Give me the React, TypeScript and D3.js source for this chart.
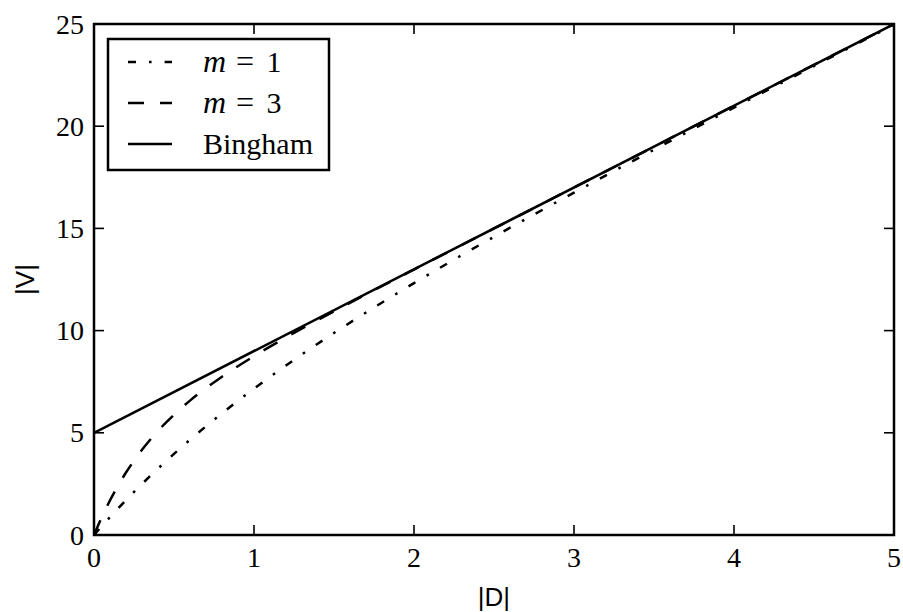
import React from "react";
import * as d3 from "d3";

const dValues = [0, 0.05, 0.1, 0.15, 0.2, 0.25, 0.3, 0.4, 0.5, 0.6, 0.8, 1.0, 1.25, 1.5, 1.75, 2, 2.5, 3, 3.5, 4, 4.5, 5];
const m1Values = [0, 0.444, 0.876, 1.297, 1.706, 2.106, 2.496, 3.248, 3.967, 4.656, 5.953, 7.161, 8.568, 9.884, 11.131, 12.323, 14.59, 16.751, 18.849, 20.908, 22.944, 24.966];
const m3Values = [0, 0.896, 1.696, 2.412, 3.056, 3.638, 4.167, 5.094, 5.884, 6.574, 7.746, 8.751, 9.882, 10.944, 11.974, 12.988, 14.997, 16.999, 19.0, 21.0, 23.0, 25.0];
const binghamD = [0, 5];
const binghamV = [5, 25];

const xTicks = [0, 1, 2, 3, 4, 5];
const yTicks = [0, 5, 10, 15, 20, 25];
const legendValues = ["1", "3"];
const legendLast = "Bingham";

const W = 903;
const H = 612;
const L = 94, R = 894, T = 24, B = 535;

export default function App() {
  const x = d3.scaleLinear().domain([0, 5]).range([L, R]);
  const y = d3.scaleLinear().domain([0, 25]).range([B, T]);
  const line = d3
    .line<[number, number]>()
    .x((d) => x(d[0]))
    .y((d) => y(d[1]))
    .curve(d3.curveMonotoneX);
  const m1 = line(dValues.map((d, i) => [d, m1Values[i]] as [number, number])) || "";
  const m3 = line(dValues.map((d, i) => [d, m3Values[i]] as [number, number])) || "";
  const bing = line(binghamD.map((d, i) => [d, binghamV[i]] as [number, number])) || "";

  const lw = 2.5;
  const serif = "'Liberation Serif', 'DejaVu Serif', serif";
  const sans = "'Liberation Sans', Arial, sans-serif";
  const dashDot = "8,13,2.6,13";
  const dashed = "16,16";
  const fs = 28;

  const legX0 = 128, legX1 = 172, legTextX = 203;
  const legRows = [62, 103, 144];
  const styles = [dashDot, dashed, ""];

  return (
    <svg
      width={W}
      height={H}
      style={{ position: "absolute", left: 0, top: 0, background: "#fff" }}
    >
      <rect x={0} y={0} width={W} height={H} fill="#fff" />
      <defs>
        <clipPath id="plot">
          <rect x={L} y={T} width={R - L} height={B - T} />
        </clipPath>
      </defs>
      <g clipPath="url(#plot)" fill="none" stroke="#000" strokeWidth={lw}>
        <path d={m1} strokeDasharray={dashDot} />
        <path d={m3} strokeDasharray={dashed} />
        <path d={bing} />
      </g>
      <g stroke="#000" strokeWidth={1.6}>
        {xTicks.map((t) => (
          <g key={"xt" + t}>
            <line x1={x(t)} x2={x(t)} y1={B} y2={B - 10} />
            <line x1={x(t)} x2={x(t)} y1={T} y2={T + 10} />
          </g>
        ))}
        {yTicks.map((t) => (
          <g key={"yt" + t}>
            <line x1={L} x2={L + 10} y1={y(t)} y2={y(t)} />
            <line x1={R} x2={R - 10} y1={y(t)} y2={y(t)} />
          </g>
        ))}
      </g>
      <rect x={L} y={T} width={R - L} height={B - T} fill="none" stroke="#000" strokeWidth={lw} />
      <g fontFamily={serif} fontSize={fs} fill="#000">
        {xTicks.map((t) => (
          <text key={"xl" + t} x={x(t)} y={567} textAnchor="middle">
            {t}
          </text>
        ))}
        {yTicks.map((t) => (
          <text key={"yl" + t} x={84} y={y(t) + 9.5} textAnchor="end">
            {t}
          </text>
        ))}
      </g>
      <text x={(L + R) / 2} y={606} textAnchor="middle" fontFamily={sans} fontSize={26}>
        |D|
      </text>
      <text
        transform={`translate(34, ${(T + B) / 2}) rotate(-90)`}
        textAnchor="middle"
        fontFamily={sans}
        fontSize={26}
      >
        |V|
      </text>
      <rect x={108} y={39} width={221} height={131} fill="#fff" stroke="#000" strokeWidth={lw} />
      {styles.map((st, i) => (
        <line
          key={"ll" + i}
          x1={legX0}
          x2={legX1}
          y1={legRows[i]}
          y2={legRows[i]}
          stroke="#000"
          strokeWidth={lw}
          strokeDasharray={st || undefined}
        />
      ))}
      <g fontFamily={serif} fontSize={30} fill="#000">
        {legendValues.map((v, i) => (
          <g key={"lt" + v}>
            <text x={legTextX} y={legRows[i] + 9.5} fontStyle="italic" fontSize={32}>
              m
            </text>
            <text x={245} y={legRows[i] + 9.5} textAnchor="middle" fontSize={32}>
              =
            </text>
            <text x={274} y={legRows[i] + 9.5} textAnchor="middle">
              {v}
            </text>
          </g>
        ))}
        <text x={legTextX} y={legRows[2] + 9.5}>
          {legendLast}
        </text>
      </g>
    </svg>
  );
}
